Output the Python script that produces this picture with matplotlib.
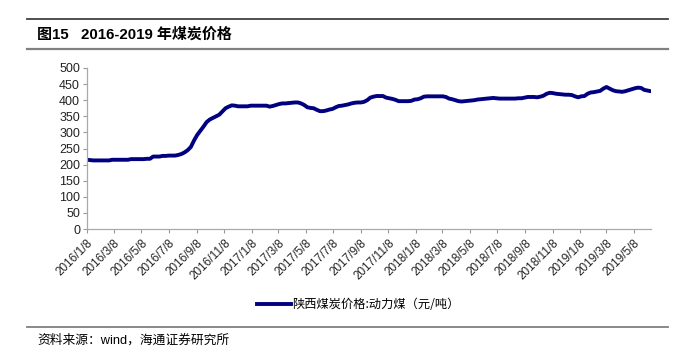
import numpy as np
import pandas as pd
import matplotlib
matplotlib.use("Agg")
import matplotlib.pyplot as plt
from matplotlib.lines import Line2D

plt.rcParams['font.family'] = ['Liberation Sans', 'Noto Sans CJK SC', 'DejaVu Sans']

# 周度数据, 从2016/1/8开始
fechas = pd.date_range("2016-01-08", periods=180, freq="7D")
precio = [
    215, 214, 213, 213, 213, 213, 213, 213,
    215, 215, 215, 215, 215, 215, 217, 217, 217, 217, 217, 218,
    218, 225, 225, 225, 227, 227, 228, 228, 228,
    230, 233, 238, 245, 255,
    275, 292, 305, 318, 332,
    340, 345, 350, 355, 365, 375, 380,
    384, 383, 381, 381, 381, 381,
    383, 383, 383, 383, 383, 383,
    380, 382, 385, 388,
    390, 390, 391, 392, 393, 393,
    390, 385, 378, 376, 375,
    370, 366, 366, 368, 371, 373,
    378, 382, 383, 385, 387, 390,
    392, 393, 393, 395, 400, 408,
    411, 413, 413, 413, 408, 406,
    404, 401, 397, 397, 397, 397,
    398, 402, 403, 406, 411, 412,
    412, 412, 412, 412, 412, 410, 405,
    403, 400, 397, 396, 397, 398, 399,
    400, 402, 403, 404, 405, 406, 407,
    406, 405, 405, 405, 405, 405, 405, 406, 406,
    408, 410, 410, 410, 409, 411, 414, 420,
    423, 422, 420, 419, 418, 417, 417, 416,
    412, 409, 412, 413, 420,
    424, 425, 427, 429, 436, 441,
    436, 431, 428, 427, 426, 428, 431,
    434, 437, 439, 438, 432, 430, 428,
]
titulo = "图15   2016-2019 年煤炭价格"
leyenda = "陕西煤炭价格:动力煤（元/吨）"
fuente = "资料来源：wind，海通证券研究所"

fig = plt.figure(figsize=(7, 3.59), dpi=100)
W, H = 700, 359

def fy(y):
    return 1 - y / H

# lineas de cabecera y pie
fig.add_artist(Line2D([27 / W, 668 / W], [fy(19), fy(19)], color="#404040", lw=1.3))
fig.add_artist(Line2D([27 / W, 668 / W], [fy(49), fy(49)], color="#808080", lw=1.6))
fig.add_artist(Line2D([27 / W, 668 / W], [fy(327), fy(327)], color="#808080", lw=1.3))

fig.text(37 / W, fy(34), titulo, fontsize=10.8, fontweight="bold",
         family=['Liberation Sans', 'Noto Sans CJK SC'], va="center", ha="left")
fig.text(37 / W, fy(340), fuente, fontsize=9.2,
         family=['Liberation Sans', 'Noto Sans CJK SC'], va="center", ha="left")

ax = fig.add_axes([87 / W, fy(229), (651 - 87) / W, (229 - 68) / H])
ax.plot(fechas, precio, color="#000080", lw=2.8, solid_capstyle="round")

ax.set_ylim(0, 500)
ax.set_yticks(np.arange(0, 501, 50))
ax.set_xlim(pd.Timestamp("2016-01-08"), pd.Timestamp("2019-06-15"))
ticks = pd.to_datetime([f"{y}-{m:02d}-08" for y in range(2016, 2020) for m in (1, 3, 5, 7, 9, 11)])
ticks = ticks[ticks <= pd.Timestamp("2019-05-08")]
ax.set_xticks(ticks)
ax.set_xticklabels([f"{d.year}/{d.month}/{d.day}" for d in ticks], rotation=45,
                   ha="right", rotation_mode="anchor", fontsize=8.5)
ax.tick_params(axis="y", labelsize=9, length=3, color="#999999", pad=2, labelcolor="#222222")
ax.tick_params(axis="x", length=3, color="#999999", pad=3, labelcolor="#222222")
for s in ("top", "right"):
    ax.spines[s].set_visible(False)
for s in ("left", "bottom"):
    ax.spines[s].set_color("#aaaaaa")
    ax.spines[s].set_linewidth(0.9)

h = [Line2D([], [], color="#000080", lw=2.8)]
fig.legend(h, [leyenda], loc="center", bbox_to_anchor=(358 / W, fy(305)),
           frameon=False, handlelength=2.8, handletextpad=0.1,
           prop={"family": ['Noto Sans CJK SC'], "size": 8.8})

fig.savefig("out.png", dpi=100)
